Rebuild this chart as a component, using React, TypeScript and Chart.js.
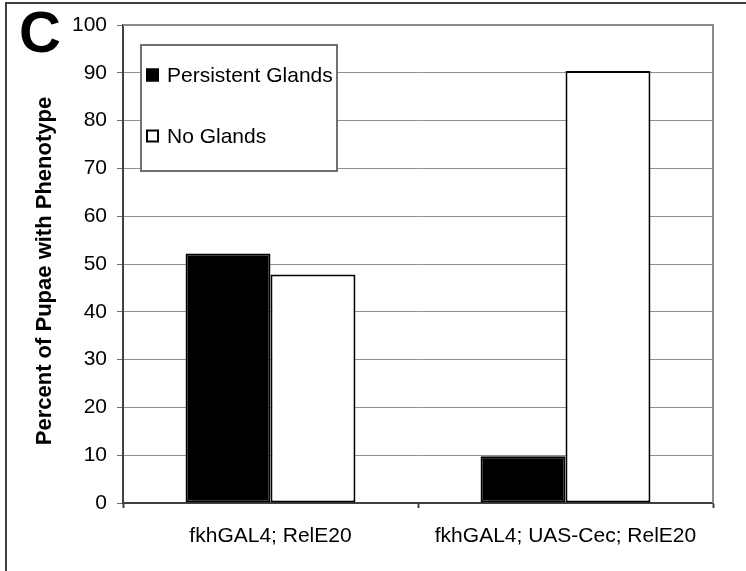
import React, { useEffect, useRef } from "react";
import { Chart, registerables } from "chart.js";

Chart.register(...registerables);

const categories = ["fkhGAL4; RelE20", "fkhGAL4; UAS-Cec; RelE20"];
const seriesNames = ["Persistent Glands", "No Glands"];
const persistentGlands = [52.2, 9.8];
const noGlands = [47.8, 90.4];
const yMin = 0;
const yMax = 100;
const yStep = 10;
const yTitle = "Percent of Pupae with Phenotype";
const panelLetter = "C";

const FONT = "'Liberation Sans', Arial, sans-serif";

const decorPlugin = {
  id: "decor",
  beforeDraw(chart: any) {
    const { ctx, width, height } = chart;
    ctx.save();
    ctx.fillStyle = "#ffffff";
    ctx.fillRect(0, 0, width, height);
    ctx.strokeStyle = "#404040";
    ctx.lineWidth = 2;
    ctx.beginPath();
    ctx.moveTo(6, height + 5);
    ctx.lineTo(6, 3);
    ctx.lineTo(width + 5, 3);
    ctx.stroke();
    ctx.restore();
  },
  afterDraw(chart: any) {
    const { ctx, chartArea } = chart;
    ctx.save();
    // plot frame top & right
    ctx.strokeStyle = "#8a8a8a";
    ctx.lineWidth = 2;
    ctx.beginPath();
    ctx.moveTo(chartArea.left, chartArea.top);
    ctx.lineTo(chartArea.right, chartArea.top);
    ctx.lineTo(chartArea.right, chartArea.bottom);
    ctx.stroke();

    // legend box
    const lx = 141, ly = 45, lw = 196, lh = 126;
    ctx.fillStyle = "#ffffff";
    ctx.fillRect(lx, ly, lw, lh);
    ctx.strokeStyle = "#707070";
    ctx.lineWidth = 2;
    ctx.strokeRect(lx, ly, lw, lh);

    const items = [
      { name: seriesNames[0], fill: "#000000", cy: 75 },
      { name: seriesNames[1], fill: "#ffffff", cy: 136 },
    ];
    ctx.font = `21px ${FONT}`;
    ctx.textBaseline = "middle";
    ctx.textAlign = "left";
    items.forEach((it) => {
      ctx.fillStyle = it.fill;
      ctx.fillRect(146, it.cy - 6.5, 13, 13);
      ctx.strokeStyle = "#000000";
      ctx.lineWidth = 2;
      ctx.strokeRect(147, it.cy - 5.5, 11, 11);
      ctx.fillStyle = "#000000";
      ctx.fillText(it.name, 167, it.cy + 1);
    });

    // y title
    ctx.save();
    ctx.translate(45, 271);
    ctx.rotate(-Math.PI / 2);
    ctx.font = `bold 22px ${FONT}`;
    ctx.textAlign = "center";
    ctx.textBaseline = "middle";
    ctx.fillStyle = "#000000";
    ctx.fillText(yTitle, 0, 0);
    ctx.restore();

    // panel letter
    ctx.font = `bold 58px ${FONT}`;
    ctx.textAlign = "center";
    ctx.textBaseline = "middle";
    ctx.fillStyle = "#000000";
    ctx.fillText(panelLetter, 40, 36);
    ctx.restore();
  },
};

export default function App() {
  const canvasRef = useRef<HTMLCanvasElement | null>(null);

  useEffect(() => {
    if (!canvasRef.current) return;
    const chart = new Chart(canvasRef.current, {
      type: "bar",
      data: {
        labels: categories,
        datasets: [
          {
            label: seriesNames[0],
            data: persistentGlands,
            backgroundColor: "#000000",
            borderColor: "#000000",
            borderWidth: 2,
            borderSkipped: false,
          },
          {
            label: seriesNames[1],
            data: noGlands,
            backgroundColor: "#ffffff",
            borderColor: "#000000",
            borderWidth: 2,
            borderSkipped: false,
          },
        ],
      },
      options: {
        responsive: false,
        animation: false,
        devicePixelRatio: 1,
        layout: { padding: { left: 0, top: 25, right: 33, bottom: 0 } },
        datasets: {
          bar: { categoryPercentage: 0.576, barPercentage: 1 },
        },
        plugins: {
          legend: { display: false },
          tooltip: { enabled: false },
          title: { display: false },
        },
        scales: {
          x: {
            afterFit: (scale: any) => {
              scale.height = 68;
            },
            grid: {
              display: true,
              drawOnChartArea: false,
              drawTicks: true,
              tickLength: 5,
              tickColor: "#404040",
              tickWidth: 2,
              offset: true,
            },
            border: { display: true, color: "#404040", width: 2 },
            ticks: {
              color: "#000000",
              font: { family: FONT, size: 21 },
              padding: 16,
              maxRotation: 0,
              autoSkip: false,
            },
          },
          y: {
            min: yMin,
            max: yMax,
            afterFit: (scale: any) => {
              scale.width = 123;
            },
            grid: {
              color: "#909090",
              lineWidth: 1,
              tickLength: 6,
              tickColor: "#707070",
              drawTicks: true,
            },
            border: { display: true, color: "#404040", width: 2 },
            ticks: {
              stepSize: yStep,
              color: "#000000",
              font: { family: FONT, size: 21 },
              padding: 10,
            },
          },
        },
      },
      plugins: [decorPlugin],
    });
    return () => chart.destroy();
  }, []);

  return (
    <div style={{ position: "absolute", left: 0, top: 0, width: 746, height: 571 }}>
      <canvas ref={canvasRef} width={746} height={571} style={{ display: "block", width: 746, height: 571 }} />
    </div>
  );
}
